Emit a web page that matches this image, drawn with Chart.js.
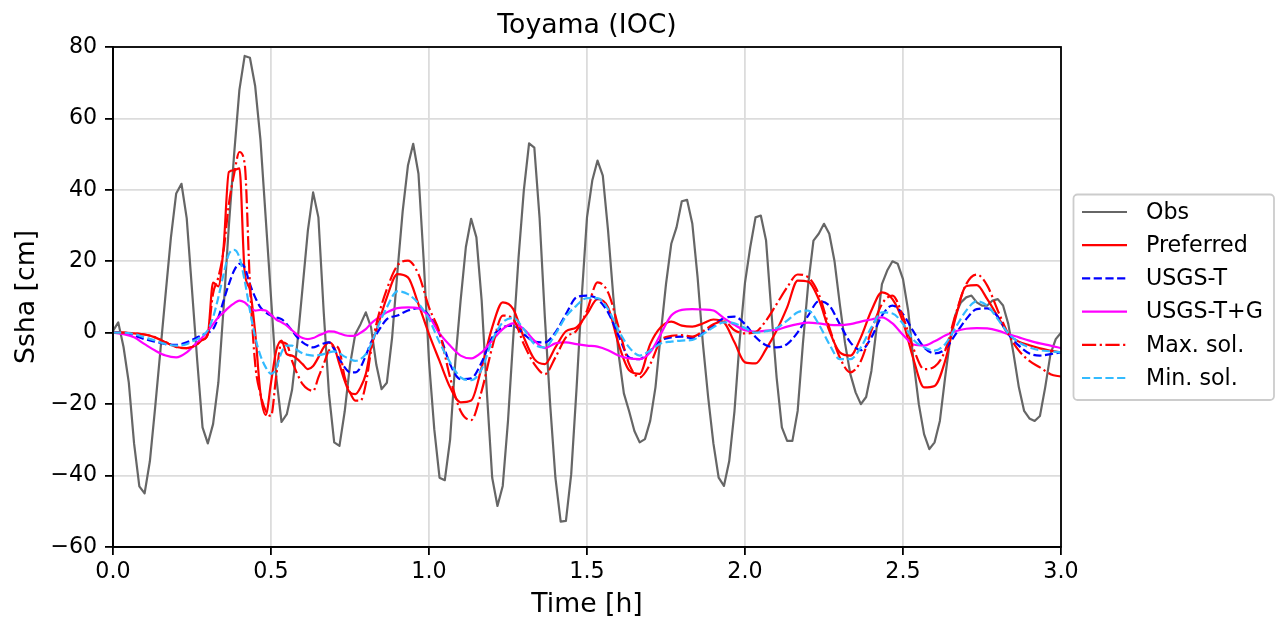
<!DOCTYPE html>
<html>
<head>
<meta charset="utf-8">
<script src="https://cdn.jsdelivr.net/npm/chart.js@4.4.0/dist/chart.umd.min.js"></script>
<style>
  html, body { margin: 0; padding: 0; background: #fff; }
</style>
</head>
<body>
<canvas id="tideChart" width="1279" height="621"></canvas>
<script>
const FONT = "'DejaVu Sans', sans-serif";
const chartTitle = 'Toyama (IOC)';

// Obs: one sample per minute, 0 .. 180 min
const obsSsha = [
  0.5, 2.9, -4, -14, -31, -43, -45, -36, -21, -5,
  11, 26.7, 39, 41.7, 32, 12, -8, -26.5, -31, -25.6,
  -14, 7, 30, 50, 68, 77.5, 77, 69, 54, 32,
  10, -12.5, -25, -22.8, -16, -3, 12.7, 28.6, 39.3, 32.3,
  6, -17, -30.7, -31.7, -22, -9, -0.4, 2.4, 5.7, 1.5,
  -9, -15.8, -14, -1.3, 17, 34, 46.8, 52.9, 44.5, 20,
  -8, -27, -40.6, -41.3, -30, -8, 9, 24, 31.9, 26.7,
  9, -17, -40.6, -48.5, -42.9, -24.7, -1.3, 21, 39.8, 53,
  51.8, 32, 4.3, -20, -40.6, -52.9, -52.7, -39.6, -16, 10,
  32.3, 42.6, 48.2, 44, 28.6, 10, -6, -17, -22, -27.5,
  -30.7, -29.8, -24.7, -15.3, -0.4, 13.6, 24.9, 29.5, 36.8, 37.2,
  30.5, 15.5, -3, -18, -31, -40.6, -42.9, -36, -22, -2,
  14, 24, 32.3, 32.8, 25.8, 6, -12.5, -26.5, -30.3, -30.3,
  -21.9, -3, 13.6, 25.8, 27.7, 30.5, 27.7, 20, 8, -3,
  -11.6, -16.7, -20, -18, -10.7, 1.5, 13.6, 17.4, 20, 19.3,
  15, 6, -8, -20, -28.4, -32.6, -30.7, -24.7, -12.5, -1.3,
  5.2, 8.5, 9.9, 10.4, 8.5, 7.6, 7.6, 9, 9.4, 7.6,
  2.4, -6, -15.3, -21.9, -24, -24.7, -23.3, -15.3, -6, -1.8,
  0
];
const obsMinutes = obsSsha.map((v, i) => i);

// model output times (minutes)
const modelMinutes = [0, 2, 4, 6, 8, 10, 12, 14,
  15, 16, 17, 18, 19, 20, 21, 22, 23, 24, 25, 26, 27, 28, 29, 30, 31, 32,
  33, 34, 35, 36, 37, 38, 39, 40, 41, 42, 43, 44, 45, 46, 47, 48, 49, 50,
  52, 54, 56, 58, 60, 62, 64, 66, 68, 70, 72, 74, 76, 78, 80, 82, 84, 86,
  88, 90, 92, 94, 96, 98, 100, 102, 104, 106, 108, 110, 112, 114, 116, 118,
  120, 122, 124, 126, 128, 130, 132, 134, 136, 138, 140, 142, 144, 146, 148,
  150, 152, 154, 156, 158, 160, 162, 164, 166, 168, 170, 172, 174, 176, 178, 180];

const preferred = [0, 0, -0.2, -0.5, -1.3, -2.7, -4, -4.3,
  -4, -3.2, -2, -0.5, 14, 13, 24, 45, 45.5, 46, 17, 12, 0, -17, -23, -14, -5, -2.2,
  -6, -6.4, -7.4, -8.8, -10.2, -9.3, -6.9, -4.1, -2.7, -4.1, -8.8, -13.5, -16.8, -17.2, -15.3, -11.6, -4.1, 0.6,
  9.9, 16.4, 15.5, 8, -0.4, -7.9, -15.3, -19.5, -19, -9.7, 1.5, 8.5, 6.6, -1.3, -7.4, -8.8, -4.1, 0.4,
  1.5, 5.2, 9.4, 7.1, -3.2, -10.5, -11.5, -3.2, 1.5, 3.1, 2, 1.7, 2.6, 3.7, 2.9, -2.7,
  -8.3, -8.6, -4.6, 0.6, 7.1, 14.6, 14.3, 9.4, 0.6, -5.5, -6.4, -1.3, 6.2, 11.3, 9.4,
  3, -7.5, -15.3, -14.9, -7.9, 4.3, 13, 13.3, 9.4, 4.5, -0.4, -2.5, -3.5, -4.4, -5, -5.5];

const usgsT = [0, 0, -0.8, -1.8, -2.5, -3.2, -3.4, -2.7,
  -2, -1.3, -0.6, 0, 1, 4.3, 9, 13.6, 17.4, 19.3, 18.3, 13.6, 9.9, 7.1, 5.7, 4.8, 4.3, 3.8,
  2.4, 0.6, -1.3, -2.7, -3.6, -4.1, -3.6, -3, -2.7, -4.6, -7.4, -9.7, -11.1, -11.1, -9.7, -6.4, -2.7, -0.4,
  3.8, 4.8, 6.2, 6.9, 4.8, -0.4, -8.8, -13, -12.8, -8.3, -1.3, 1.5, 2, -0.4, -2.5, -2.7, 0.1, 5.2,
  9.9, 10.4, 9.4, 5.7, -0.8, -6.9, -7.4, -5, -2.2, -1.3, -1.1, -1.5, -0.2, 2, 4.1, 4.5,
  2.4, -1.2, -3.5, -4.1, -3.2, 0.1, 4.8, 8.8, 7.6, 2.4, -2.7, -4.9, -1.3, 4.8, 7.6,
  5.2, 0.3, -4.1, -5.8, -4.6, -0.4, 3.8, 6.6, 6.8, 4.5, -0.4, -3.6, -5.8, -6.4, -6, -5.5];

const usgsTG = [0, -0.4, -1.3, -3.2, -5, -6.4, -6.9, -5.5,
  -4.1, -2.7, -1.3, 0.4, 2.4, 4.3, 5.7, 7.1, 8.2, 9, 8.5, 7.1, 6.2, 6.4, 6.2, 5, 3.7, 2.9,
  2, 0.7, -0.6, -1.5, -1.8, -1.5, -0.8, -0.2, 0.4, 0.3, -0.2, -0.7, -0.9, -0.8, 0, 1, 2.6, 3.8,
  5.7, 6.9, 7.1, 6.9, 4.5, -0.2, -3.6, -6.4, -7.2, -5.5, -2.2, 1, 2.6, 1, -2.2, -4.3, -3, -2.7,
  -3.2, -3.6, -3.9, -4.9, -6.4, -7.2, -7.4, -5.5, -0.4, 4.8, 6.4, 6.6, 6.5, 6.2, 4.1, 2.2,
  0.7, 0.3, 0.6, 0.8, 1.7, 2.4, 2.8, 2.6, 2.2, 2.1, 2.4, 3.1, 3.7, 4.3, 2.6,
  -0.6, -3.3, -3.6, -2.4, -0.8, 0.4, 1.1, 1.3, 1.2, 0.6, -0.4, -1.3, -2.2, -3, -3.6, -4.3];

const maxSol = [0, 0, -0.2, -0.5, -1.3, -2.7, -4, -4.3,
  -4, -3.2, -2, -0.4, 11, 15.5, 23, 36, 44.5, 50.6, 47.3, 13.6, -8.8, -17.2, -21.9, -23.3, -12, -2.7,
  -3.2, -7.9, -11.6, -14.4, -15.8, -16.3, -12.5, -8.8, -5, -3.6, -5, -12.5, -16.7, -19, -19, -14.4, -5, 2.4,
  12.2, 18.8, 20.2, 16.4, 7.1, 0.1, -12.5, -21.9, -24.5, -16.3, -4.1, 4.8, 3.8, -3.2, -8.8, -11.6, -6.9, -1.3,
  0.6, 6.2, 14.1, 11.3, 1.5, -8.8, -12.5, -8.8, -2.2, -0.9, -0.7, -1.1, 0.4, 2.4, 3.2, 0.7,
  -0.2, 0.2, 3.4, 8, 12.7, 16.3, 15.5, 10.8, 1.5, -6.9, -11.1, -7.9, 0.6, 8, 10.4,
  4.5, -4.5, -10.2, -9.5, -5, 5.2, 13.6, 16.3, 13.2, 6.2, -0.4, -5, -7.9, -9.7, -11.6, -12.3];

const minSol = [0, 0, -0.4, -1.3, -2.2, -3.2, -3.6, -3.2,
  -2.5, -1.8, -0.8, 0.7, 4.3, 9.9, 16.4, 22, 23.2, 21.1, 14.6, 6.2, -1.3, -6.4, -9.7, -11.5, -10, -5.5,
  -3.6, -3.6, -4.9, -5.8, -6.2, -6.4, -6.3, -6, -5.5, -5.2, -5.8, -6.7, -7.4, -7.9, -7.4, -6, -3.2, 0.6,
  7.1, 11.6, 10.8, 8.2, 3.8, -2.7, -8.3, -12.5, -13.3, -10.2, -2.2, 2.9, 4.1, 1, -3.2, -4.1, -0.4, 4.5,
  7.6, 9.7, 9.7, 6.6, 0.6, -4.1, -6.4, -5, -3, -2.5, -2.2, -2, -0.4, 1.5, 2.9, 2.6,
  1.3, 0, 0.4, 1.3, 3.4, 5.7, 6.2, 2.4, -3.2, -7.4, -7.4, -4.1, 1.5, 5.7, 5.4,
  2.5, -2, -4.1, -5, -3.2, 1.5, 6.2, 8.8, 7.6, 3.8, -0.2, -2.7, -4.1, -4.9, -5.2, -5.5];

const yTicks = [-60, -40, -20, 0, 20, 40, 60, 80];

const toPts = (mins, vals) => vals.map((v, i) => ({ x: mins[i] / 60, y: v }));

// axes frame, title and matplotlib-like legend box
const frameLegend = {
  id: 'frameLegend',
  afterDatasetsDraw(chart) {
    const { ctx, chartArea: a } = chart;
    ctx.save();
    ctx.strokeStyle = '#000';
    ctx.lineWidth = 1.8;
    ctx.strokeRect(a.left, a.top, a.right - a.left, a.bottom - a.top);

    ctx.fillStyle = '#000';
    ctx.font = '26.7px ' + FONT;
    ctx.textAlign = 'center';
    ctx.textBaseline = 'alphabetic';
    ctx.fillText(chartTitle, (a.left + a.right) / 2, 33);

    // legend
    ctx.beginPath();
    ctx.roundRect(1073.5, 194.5, 200.5, 205.5, 4);
    ctx.fillStyle = 'rgba(255,255,255,0.8)';
    ctx.fill();
    ctx.strokeStyle = '#cccccc';
    ctx.lineWidth = 1.8;
    ctx.stroke();

    ctx.font = '22.2px ' + FONT;
    ctx.textAlign = 'left';
    ctx.textBaseline = 'middle';
    chart.data.datasets.forEach((ds, i) => {
      const y = 212 + 33.2 * i;
      ctx.beginPath();
      ctx.setLineDash(ds.borderDash || []);
      ctx.strokeStyle = ds.borderColor;
      ctx.lineWidth = ds.borderWidth;
      ctx.moveTo(1082, y);
      ctx.lineTo(1127, y);
      ctx.stroke();
      ctx.setLineDash([]);
      ctx.fillStyle = '#000';
      ctx.fillText(ds.label, 1146, y + 1);
    });
    ctx.restore();
  }
};

const lineBase = { pointRadius: 0, borderWidth: 2.2, borderJoinStyle: 'round', fill: false };

const tideChart = new Chart(document.getElementById('tideChart').getContext('2d'), {
  type: 'line',
  data: {
    datasets: [
      { ...lineBase, label: 'Obs', data: toPts(obsMinutes, obsSsha), borderColor: '#666666', tension: 0, order: 6 },
      { ...lineBase, label: 'Preferred', data: toPts(modelMinutes, preferred), borderColor: '#ff0000', cubicInterpolationMode: 'monotone', order: 5 },
      { ...lineBase, label: 'USGS-T', data: toPts(modelMinutes, usgsT), borderColor: '#0000ff', borderDash: [8.2, 3.5], cubicInterpolationMode: 'monotone', order: 4 },
      { ...lineBase, label: 'USGS-T+G', data: toPts(modelMinutes, usgsTG), borderColor: '#ff00ff', cubicInterpolationMode: 'monotone', order: 3 },
      { ...lineBase, label: 'Max. sol.', data: toPts(modelMinutes, maxSol), borderColor: '#ff0000', borderDash: [14.2, 3.5, 2.2, 3.5], cubicInterpolationMode: 'monotone', order: 2 },
      { ...lineBase, label: 'Min. sol.', data: toPts(modelMinutes, minSol), borderColor: '#33bbff', borderDash: [8.2, 3.5], cubicInterpolationMode: 'monotone', order: 1 }
    ]
  },
  options: {
    responsive: false,
    animation: false,
    events: [],
    layout: { padding: { left: 0, right: 218, top: 47, bottom: 0 } },
    plugins: { legend: { display: false }, title: { display: false }, tooltip: { enabled: false } },
    scales: {
      x: {
        type: 'linear', min: 0, max: 3,
        ticks: { stepSize: 0.5, callback: v => v.toFixed(1), font: { family: FONT, size: 22.2 }, color: '#000', padding: 4, maxRotation: 0, autoSkip: false },
        grid: { color: '#dcdcdc', lineWidth: 1.8, tickColor: '#000', tickLength: 8, tickWidth: 1.8 },
        border: { display: true, color: '#000', width: 1.8 },
        title: { display: true, text: 'Time [h]', font: { family: FONT, size: 26.7 }, color: '#000', padding: { top: 1, bottom: 0 } },
        afterFit: s => { s.height = 74; }
      },
      y: {
        min: -60, max: 80,
        afterBuildTicks: s => { s.ticks = yTicks.map(v => ({ value: v })); },
        ticks: { callback: v => String(v).replace('-', '\u2212'), font: { family: FONT, size: 22.2 }, color: '#000', padding: 7.8 },
        grid: { color: '#dcdcdc', lineWidth: 1.8, tickColor: '#000', tickLength: 8, tickWidth: 1.8 },
        border: { display: true, color: '#000', width: 1.8 },
        title: { display: true, text: 'Ssha [cm]', font: { family: FONT, size: 26.7 }, color: '#000', padding: { top: 11, bottom: 0 } },
        afterFit: s => { s.width = 113; }
      }
    }
  },
  plugins: [frameLegend]
});
</script>
</body>
</html>
